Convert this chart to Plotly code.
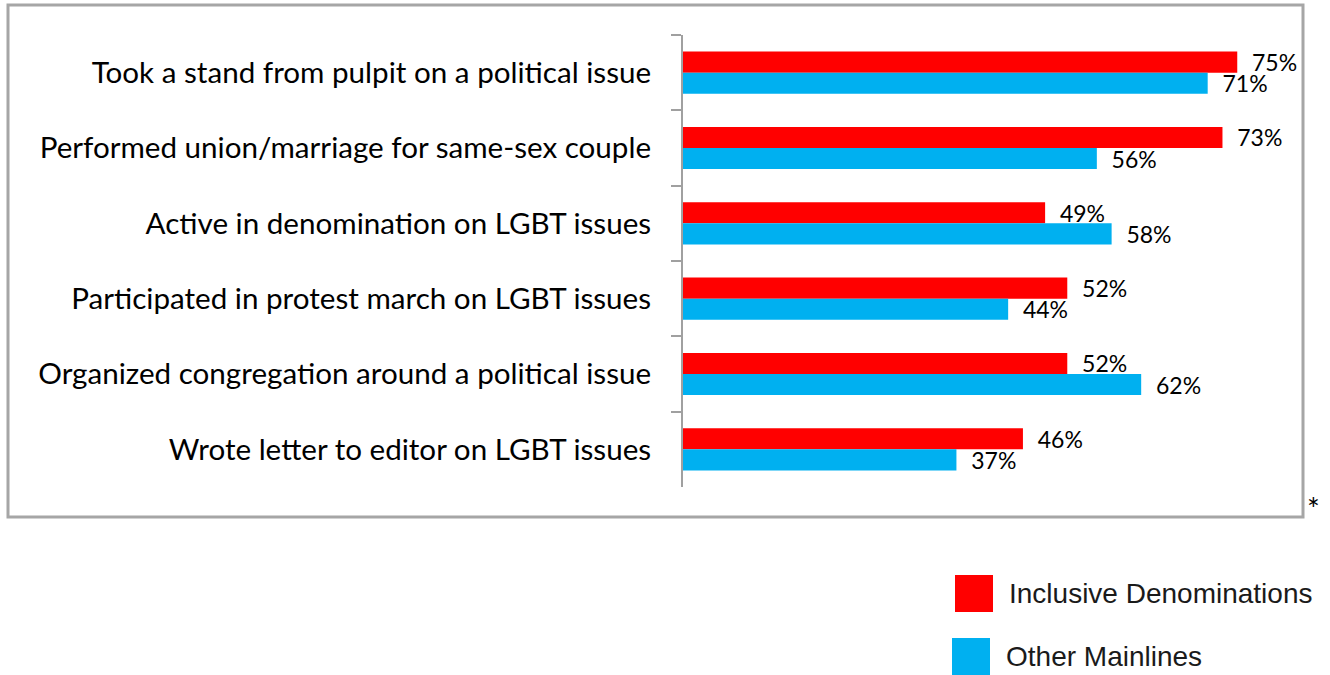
import plotly.graph_objects as go

categories = [
    "Took a stand from pulpit on a political issue",
    "Performed union/marriage for same-sex couple",
    "Active in denomination on LGBT issues",
    "Participated in protest march on LGBT issues",
    "Organized congregation around a political issue",
    "Wrote letter to editor on LGBT issues",
]
inclusive = [75, 73, 49, 52, 52, 46]
other = [71, 56, 58, 44, 62, 37]
series_names = ["Inclusive Denominations", "Other Mainlines"]
colors = ["#FF0000", "#00B0F0"]

W, H = 1330, 675
ML, MR, MT, MB = 683, 27, 35, 188
PW, PH = W - ML - MR, H - MT - MB


def px(x):
    return (x - ML) / PW


def py(y):
    return (H - MB - y) / PH


label_font = dict(family="Lato, Carlito, Calibri, sans-serif", size=29.6, color="#000000")
value_font = dict(family="Lato, Carlito, Calibri, sans-serif", size=23, color="#000000")

fig = go.Figure()
for name, vals, col in zip(series_names, [inclusive, other], colors):
    fig.add_trace(go.Bar(
        y=categories, x=vals, name=name, orientation="h",
        marker=dict(color=col, line=dict(width=0)),
        text=[f"{v}%" for v in vals], texttemplate="  %{text}",
        textposition="outside", textfont=value_font, cliponaxis=False,
        constraintext="none", showlegend=False,
    ))

fig.update_layout(
    width=W, height=H, autosize=False,
    margin=dict(l=ML, r=MR, t=MT, b=MB, pad=0),
    paper_bgcolor="white", plot_bgcolor="white",
    barmode="group", bargap=0.44, bargroupgap=0,
    xaxis=dict(range=[0, PW / 7.39], visible=False, showgrid=False, zeroline=False),
    yaxis=dict(autorange="reversed", showgrid=False, zeroline=False,
               showline=True, linecolor="#A0A0A0", linewidth=2,
               ticks="outside", tickson="boundaries", ticklen=10,
               tickcolor="#A0A0A0", tickwidth=2,
               tickfont=label_font, ticklabelstandoff=24),
)

shapes = [
    dict(type="rect", xref="paper", yref="paper",
         x0=px(8), x1=px(1303), y0=py(517), y1=py(5),
         line=dict(color="#A6A6A6", width=3), fillcolor="rgba(0,0,0,0)", layer="below"),
    dict(type="rect", xref="paper", yref="paper",
         x0=px(955), x1=px(993), y0=py(612), y1=py(575),
         line=dict(width=0), fillcolor=colors[0]),
    dict(type="rect", xref="paper", yref="paper",
         x0=px(952), x1=px(990), y0=py(675), y1=py(638),
         line=dict(width=0), fillcolor=colors[1]),
]
legend_font = dict(family="Liberation Sans, Arial, sans-serif", size=28, color="#1a1a1a")
annotations = [
    dict(xref="paper", yref="paper", x=px(1007), y=py(593), text=series_names[0],
         showarrow=False, xanchor="left", yanchor="middle", font=legend_font),
    dict(xref="paper", yref="paper", x=px(1004), y=py(656), text=series_names[1],
         showarrow=False, xanchor="left", yanchor="middle", font=legend_font),
    dict(xref="paper", yref="paper", x=px(1305), y=py(508), text="*",
         showarrow=False, xanchor="left", yanchor="middle",
         font=dict(family="Lato, sans-serif", size=30, color="#000000")),
]
fig.update_layout(shapes=shapes, annotations=annotations)

fig.write_html(
    "out.html",
    config={"displayModeBar": False},
    post_script="document.body.style.margin='0';document.body.style.overflow='hidden';",
)
